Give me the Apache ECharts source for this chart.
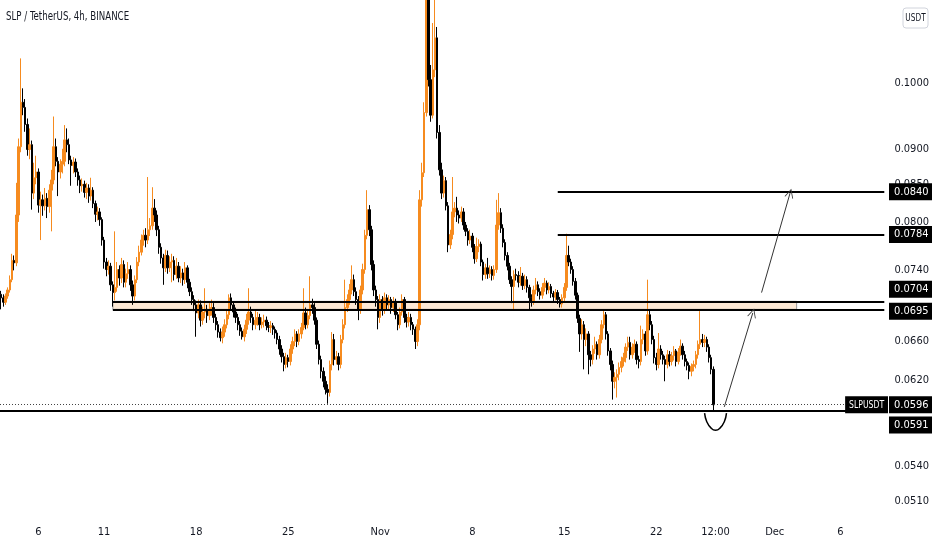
<!DOCTYPE html>
<html>
<head>
<meta charset="utf-8">
<script src="https://cdn.jsdelivr.net/npm/echarts@6/dist/echarts.min.js"></script>
<style>
  html, body { margin: 0; background: #fff; }
  #chart { width: 932px; height: 550px; }
</style>
</head>
<body>
<div id="chart"></div>
<script>
// SLP / USDT, 4h candles from 2021-10-03 04:00 (UTC), [open, close, low, high]
const startTime = Date.UTC(2021, 9, 3, 4)
const slotCount = 404

const candles = [
  [0.0712,0.0708,0.0695,0.0716],[0.0708,0.0703,0.0698,0.0712],[0.0703,0.0710,0.0700,0.0713],[0.0710,0.0717,0.0707,0.0720],
  [0.0717,0.0729,0.0714,0.0734],[0.0729,0.0752,0.0726,0.0760],[0.0752,0.0749,0.0740,0.0758],[0.0749,0.0809,0.0745,0.0852],
  [0.0809,0.0903,0.0800,0.0915],[0.0903,0.0970,0.0895,0.1041],[0.0970,0.0962,0.0950,0.0992],[0.0962,0.0936,0.0925,0.0975],
  [0.0936,0.0899,0.0890,0.0945],[0.0899,0.0906,0.0885,0.0930],[0.0906,0.0838,0.0816,0.0912],[0.0838,0.0859,0.0830,0.0880],
  [0.0859,0.0867,0.0850,0.0890],[0.0867,0.0822,0.0812,0.0872],[0.0822,0.0829,0.0777,0.0840],[0.0829,0.0821,0.0808,0.0836],
  [0.0821,0.0831,0.0815,0.0845],[0.0831,0.0820,0.0805,0.0838],[0.0820,0.0842,0.0812,0.0850],[0.0842,0.0856,0.0788,0.0870],
  [0.0856,0.0903,0.0850,0.0948],[0.0903,0.0882,0.0875,0.0915],[0.0882,0.0867,0.0834,0.0888],[0.0867,0.0878,0.0858,0.0885],
  [0.0878,0.0882,0.0865,0.0900],[0.0882,0.0913,0.0875,0.0935],[0.0913,0.0906,0.0895,0.0930],[0.0906,0.0884,0.0878,0.0915],
  [0.0884,0.0876,0.0848,0.0890],[0.0876,0.0881,0.0865,0.0888],[0.0881,0.0867,0.0860,0.0886],[0.0867,0.0856,0.0848,0.0872],
  [0.0856,0.0848,0.0838,0.0862],[0.0848,0.0850,0.0840,0.0858],[0.0850,0.0839,0.0832,0.0855],[0.0839,0.0845,0.0830,0.0852],
  [0.0845,0.0834,0.0825,0.0850],[0.0834,0.0842,0.0828,0.0859],[0.0842,0.0824,0.0818,0.0846],[0.0824,0.0810,0.0800,0.0828],
  [0.0810,0.0813,0.0802,0.0820],[0.0813,0.0803,0.0795,0.0818],[0.0803,0.0777,0.0770,0.0806],[0.0777,0.0750,0.0742,0.0781],
  [0.0750,0.0741,0.0733,0.0755],[0.0741,0.0745,0.0735,0.0752],[0.0745,0.0723,0.0716,0.0749],[0.0723,0.0714,0.0698,0.0727],
  [0.0714,0.0720,0.0705,0.0788],[0.0720,0.0741,0.0715,0.0750],[0.0741,0.0731,0.0722,0.0746],[0.0731,0.0747,0.0725,0.0755],
  [0.0747,0.0726,0.0720,0.0752],[0.0726,0.0736,0.0720,0.0742],[0.0736,0.0741,0.0730,0.0750],[0.0741,0.0723,0.0716,0.0746],
  [0.0723,0.0710,0.0700,0.0728],[0.0710,0.0729,0.0705,0.0734],[0.0729,0.0750,0.0725,0.0756],[0.0750,0.0762,0.0745,0.0770],
  [0.0762,0.0777,0.0758,0.0784],[0.0777,0.0783,0.0770,0.0790],[0.0783,0.0777,0.0768,0.0792],[0.0777,0.0790,0.0772,0.0860],
  [0.0790,0.0795,0.0782,0.0805],[0.0795,0.0818,0.0790,0.0846],[0.0818,0.0809,0.0800,0.0830],[0.0809,0.0790,0.0782,0.0815],
  [0.0790,0.0768,0.0760,0.0795],[0.0768,0.0755,0.0748,0.0773],[0.0755,0.0743,0.0723,0.0760],[0.0743,0.0758,0.0738,0.0765],
  [0.0758,0.0743,0.0736,0.0764],[0.0743,0.0750,0.0738,0.0757],[0.0750,0.0752,0.0726,0.0760],[0.0752,0.0735,0.0728,0.0757],
  [0.0735,0.0745,0.0730,0.0755],[0.0745,0.0731,0.0726,0.0750],[0.0731,0.0737,0.0725,0.0745],[0.0737,0.0729,0.0722,0.0742],
  [0.0729,0.0743,0.0724,0.0750],[0.0743,0.0726,0.0719,0.0746],[0.0726,0.0715,0.0710,0.0730],[0.0715,0.0706,0.0700,0.0720],
  [0.0706,0.0700,0.0693,0.0711],[0.0700,0.0691,0.0665,0.0705],[0.0691,0.0700,0.0685,0.0706],[0.0700,0.0683,0.0676,0.0705],
  [0.0683,0.0692,0.0678,0.0698],[0.0692,0.0695,0.0685,0.0719],[0.0695,0.0688,0.0680,0.0700],[0.0688,0.0695,0.0683,0.0702],
  [0.0695,0.0697,0.0688,0.0706],[0.0697,0.0686,0.0680,0.0702],[0.0686,0.0678,0.0672,0.0690],[0.0678,0.0670,0.0664,0.0682],
  [0.0670,0.0664,0.0660,0.0674],[0.0664,0.0670,0.0658,0.0676],[0.0670,0.0678,0.0665,0.0684],[0.0678,0.0689,0.0674,0.0695],
  [0.0689,0.0708,0.0684,0.0712],[0.0708,0.0700,0.0694,0.0713],[0.0700,0.0692,0.0686,0.0704],[0.0692,0.0686,0.0680,0.0697],
  [0.0686,0.0678,0.0672,0.0690],[0.0678,0.0671,0.0666,0.0682],[0.0671,0.0665,0.0662,0.0675],[0.0665,0.0673,0.0660,0.0678],
  [0.0673,0.0683,0.0668,0.0690],[0.0683,0.0692,0.0678,0.0719],[0.0692,0.0686,0.0680,0.0698],[0.0686,0.0678,0.0672,0.0690],
  [0.0678,0.0683,0.0673,0.0695],[0.0683,0.0686,0.0677,0.0692],[0.0686,0.0678,0.0672,0.0690],[0.0678,0.0681,0.0674,0.0686],
  [0.0681,0.0683,0.0675,0.0689],[0.0683,0.0677,0.0672,0.0687],[0.0677,0.0675,0.0670,0.0681],[0.0675,0.0677,0.0669,0.0682],
  [0.0677,0.0673,0.0667,0.0680],[0.0673,0.0669,0.0663,0.0676],[0.0669,0.0662,0.0657,0.0672],[0.0662,0.0652,0.0646,0.0666],
  [0.0652,0.0644,0.0638,0.0656],[0.0644,0.0636,0.0629,0.0648],[0.0636,0.0643,0.0632,0.0648],[0.0643,0.0639,0.0633,0.0646],
  [0.0639,0.0652,0.0635,0.0657],[0.0652,0.0660,0.0647,0.0665],[0.0660,0.0668,0.0655,0.0673],[0.0668,0.0660,0.0654,0.0671],
  [0.0660,0.0668,0.0656,0.0673],[0.0668,0.0675,0.0663,0.0680],[0.0675,0.0691,0.0672,0.0719],[0.0691,0.0678,0.0673,0.0697],
  [0.0678,0.0688,0.0674,0.0694],[0.0688,0.0700,0.0684,0.0733],[0.0700,0.0697,0.0690,0.0707],[0.0697,0.0683,0.0678,0.0702],
  [0.0683,0.0657,0.0652,0.0686],[0.0657,0.0641,0.0636,0.0661],[0.0641,0.0629,0.0622,0.0645],[0.0629,0.0619,0.0613,0.0633],
  [0.0619,0.0611,0.0606,0.0624],[0.0611,0.0608,0.0597,0.0616],[0.0608,0.0636,0.0604,0.0640],[0.0636,0.0662,0.0630,0.0670],
  [0.0662,0.0641,0.0635,0.0668],[0.0641,0.0644,0.0636,0.0650],[0.0644,0.0636,0.0630,0.0648],[0.0636,0.0662,0.0632,0.0667],
  [0.0662,0.0678,0.0658,0.0684],[0.0678,0.0697,0.0674,0.0729],[0.0697,0.0706,0.0692,0.0712],[0.0706,0.0717,0.0700,0.0724],
  [0.0717,0.0729,0.0712,0.0746],[0.0729,0.0715,0.0710,0.0735],[0.0715,0.0706,0.0700,0.0720],[0.0706,0.0695,0.0683,0.0710],
  [0.0695,0.0717,0.0690,0.0722],[0.0717,0.0741,0.0712,0.0748],[0.0741,0.0783,0.0736,0.0790],[0.0783,0.0816,0.0778,0.0842],
  [0.0816,0.0790,0.0782,0.0822],[0.0790,0.0747,0.0740,0.0795],[0.0747,0.0717,0.0710,0.0752],[0.0717,0.0706,0.0698,0.0722],
  [0.0706,0.0686,0.0673,0.0710],[0.0686,0.0706,0.0680,0.0712],[0.0706,0.0695,0.0688,0.0710],[0.0695,0.0708,0.0690,0.0714],
  [0.0708,0.0700,0.0694,0.0712],[0.0700,0.0706,0.0695,0.0711],[0.0706,0.0697,0.0690,0.0709],[0.0697,0.0704,0.0692,0.0709],
  [0.0704,0.0689,0.0684,0.0707],[0.0689,0.0678,0.0672,0.0692],[0.0678,0.0692,0.0674,0.0697],[0.0692,0.0706,0.0688,0.0712],
  [0.0706,0.0686,0.0680,0.0709],[0.0686,0.0681,0.0675,0.0690],[0.0681,0.0686,0.0676,0.0692],[0.0686,0.0678,0.0672,0.0690],
  [0.0678,0.0673,0.0667,0.0681],[0.0673,0.0660,0.0652,0.0676],[0.0660,0.0678,0.0655,0.0684],[0.0678,0.0829,0.0672,0.0842],
  [0.0829,0.0866,0.0820,0.0880],[0.0866,0.0954,0.0860,0.0970],[0.0954,0.1250,0.0948,0.1350],[0.1250,0.1006,0.0995,0.1300],
  [0.1006,0.0950,0.0940,0.1030],[0.0950,0.1022,0.0945,0.1102],[0.1022,0.1076,0.1010,0.1180],[0.1076,0.0924,0.0915,0.1095],
  [0.0924,0.0870,0.0862,0.0935],[0.0870,0.0838,0.0830,0.0880],[0.0838,0.0855,0.0832,0.0862],[0.0855,0.0821,0.0815,0.0860],
  [0.0821,0.0771,0.0762,0.0826],[0.0771,0.0784,0.0766,0.0790],[0.0784,0.0813,0.0778,0.0860],[0.0813,0.0818,0.0806,0.0826],
  [0.0818,0.0809,0.0800,0.0833],[0.0809,0.0805,0.0798,0.0815],[0.0805,0.0813,0.0800,0.0820],[0.0813,0.0796,0.0790,0.0818],
  [0.0796,0.0788,0.0782,0.0800],[0.0788,0.0777,0.0770,0.0792],[0.0777,0.0782,0.0772,0.0790],[0.0782,0.0768,0.0762,0.0786],
  [0.0768,0.0754,0.0748,0.0772],[0.0754,0.0769,0.0750,0.0780],[0.0769,0.0772,0.0762,0.0778],[0.0772,0.0750,0.0745,0.0775],
  [0.0750,0.0735,0.0728,0.0753],[0.0735,0.0743,0.0730,0.0748],[0.0743,0.0736,0.0730,0.0755],[0.0736,0.0741,0.0731,0.0746],
  [0.0741,0.0734,0.0728,0.0745],[0.0734,0.0741,0.0729,0.0746],[0.0741,0.0796,0.0737,0.0829],[0.0796,0.0812,0.0790,0.0838],
  [0.0812,0.0792,0.0786,0.0818],[0.0792,0.0774,0.0768,0.0797],[0.0774,0.0758,0.0752,0.0778],[0.0758,0.0745,0.0740,0.0762],
  [0.0745,0.0729,0.0724,0.0749],[0.0729,0.0721,0.0702,0.0733],[0.0721,0.0735,0.0695,0.0740],[0.0735,0.0734,0.0728,0.0742],
  [0.0734,0.0726,0.0720,0.0739],[0.0726,0.0733,0.0722,0.0744],[0.0733,0.0722,0.0717,0.0737],[0.0722,0.0729,0.0718,0.0735],
  [0.0729,0.0720,0.0714,0.0733],[0.0720,0.0708,0.0695,0.0723],[0.0708,0.0703,0.0698,0.0712],[0.0703,0.0717,0.0700,0.0722],
  [0.0717,0.0723,0.0712,0.0731],[0.0723,0.0715,0.0710,0.0727],[0.0715,0.0711,0.0706,0.0719],[0.0711,0.0720,0.0707,0.0725],
  [0.0720,0.0725,0.0715,0.0731],[0.0725,0.0717,0.0712,0.0728],[0.0717,0.0721,0.0713,0.0726],[0.0721,0.0713,0.0708,0.0724],
  [0.0713,0.0709,0.0704,0.0716],[0.0709,0.0714,0.0705,0.0718],[0.0714,0.0706,0.0701,0.0717],[0.0706,0.0701,0.0697,0.0709],
  [0.0701,0.0708,0.0697,0.0712],[0.0708,0.0720,0.0704,0.0725],[0.0720,0.0758,0.0716,0.0785],[0.0758,0.0750,0.0745,0.0770],
  [0.0750,0.0741,0.0736,0.0754],[0.0741,0.0727,0.0722,0.0745],[0.0727,0.0711,0.0706,0.0731],[0.0711,0.0685,0.0680,0.0714],
  [0.0685,0.0668,0.0649,0.0689],[0.0668,0.0678,0.0662,0.0684],[0.0678,0.0662,0.0631,0.0682],[0.0662,0.0668,0.0655,0.0674],
  [0.0668,0.0646,0.0626,0.0671],[0.0646,0.0641,0.0634,0.0650],[0.0641,0.0652,0.0636,0.0656],[0.0652,0.0657,0.0647,0.0665],
  [0.0657,0.0646,0.0641,0.0660],[0.0646,0.0662,0.0642,0.0667],[0.0662,0.0678,0.0658,0.0683],[0.0678,0.0689,0.0674,0.0695],
  [0.0689,0.0668,0.0662,0.0692],[0.0668,0.0650,0.0645,0.0671],[0.0650,0.0636,0.0630,0.0653],[0.0636,0.0619,0.0601,0.0640],
  [0.0619,0.0623,0.0612,0.0628],[0.0623,0.0626,0.0603,0.0631],[0.0626,0.0633,0.0620,0.0638],[0.0633,0.0639,0.0628,0.0644],
  [0.0639,0.0643,0.0634,0.0648],[0.0643,0.0654,0.0638,0.0658],[0.0654,0.0659,0.0650,0.0665],[0.0659,0.0646,0.0641,0.0665],
  [0.0646,0.0654,0.0642,0.0658],[0.0654,0.0657,0.0648,0.0662],[0.0657,0.0641,0.0636,0.0660],[0.0641,0.0639,0.0632,0.0645],
  [0.0639,0.0662,0.0635,0.0677],[0.0662,0.0668,0.0657,0.0673],[0.0668,0.0650,0.0645,0.0671],[0.0650,0.0689,0.0646,0.0729],
  [0.0689,0.0678,0.0672,0.0694],[0.0678,0.0662,0.0657,0.0682],[0.0662,0.0643,0.0637,0.0666],[0.0643,0.0636,0.0630,0.0648],
  [0.0636,0.0652,0.0632,0.0669],[0.0652,0.0646,0.0641,0.0656],[0.0646,0.0641,0.0636,0.0650],[0.0641,0.0636,0.0619,0.0645],
  [0.0636,0.0646,0.0632,0.0651],[0.0646,0.0639,0.0634,0.0650],[0.0639,0.0645,0.0635,0.0649],[0.0645,0.0650,0.0640,0.0655],
  [0.0650,0.0639,0.0634,0.0652],[0.0639,0.0649,0.0636,0.0653],[0.0649,0.0655,0.0645,0.0662],[0.0655,0.0646,0.0641,0.0658],
  [0.0646,0.0639,0.0634,0.0650],[0.0639,0.0635,0.0630,0.0642],[0.0635,0.0629,0.0621,0.0638],[0.0629,0.0634,0.0624,0.0637],
  [0.0634,0.0636,0.0629,0.0640],[0.0636,0.0646,0.0632,0.0650],[0.0646,0.0657,0.0642,0.0661],[0.0657,0.0662,0.0652,0.0693],
  [0.0662,0.0659,0.0654,0.0668],[0.0659,0.0662,0.0654,0.0667],[0.0662,0.0654,0.0649,0.0665],[0.0654,0.0643,0.0638,0.0657],
  [0.0643,0.0631,0.0626,0.0646],[0.0631,0.0596,0.0591,0.0634]
]

// time axis labels: [slot time, text]
const timeTicks = [
  ['2021-10-06 00:00', '6'], ['2021-10-11 00:00', '11'], ['2021-10-18 00:00', '18'],
  ['2021-10-25 00:00', '25'], ['2021-11-01 00:00', 'Nov'], ['2021-11-08 00:00', '8'],
  ['2021-11-15 00:00', '15'], ['2021-11-22 00:00', '22'], ['2021-11-26 12:00', '12:00'],
  ['2021-12-01 00:00', 'Dec'], ['2021-12-06 00:00', '6']
]
const priceTicks = [0.1, 0.09, 0.085, 0.08, 0.074, 0.066, 0.062, 0.054, 0.051]
const priceRange = [0.04951, 0.11436]

// drawn levels: [price, first slot] (slot 0 = full width)
const levelLines = [[0.0840, 254], [0.0784, 254], [0.0704, 51], [0.0695, 51], [0.0591, 0]]
const lastPrice = 0.0596
const zone = { top: 0.0704, bottom: 0.0695, from: 51, to: 363 }
// arrows: [fromSlot, fromPrice, toSlot, toPrice]
const arrows = [[330, 0.0594, 343, 0.0691], [347, 0.0714, 360, 0.0838]]
// hand-drawn cup under the last candle: [slot, price]
const cupPoints = [
  [321, 0.0588], [322, 0.0580], [324, 0.0574], [326, 0.0572], [328, 0.0574], [330, 0.0580], [331, 0.0588]
]
// price tags on the scale: [price, vertical nudge in px]
const priceTags = [[0.0840, 0], [0.0784, 0], [0.0704, -12], [0.0695, 2], [0.0596, 0], [0.0591, 15]]

const font = "'Liberation Sans Narrow', 'DejaVu Sans Condensed', 'Liberation Sans', sans-serif"
const ink = '#131722'
const upColor = '#f68b1f'
const downColor = '#000000'
const gridRight = 44

const categories = []
for (let k = 0; k < slotCount; k++) {
  const d = new Date(startTime + k * 4 * 3600 * 1000)
  categories.push(d.toISOString().slice(0, 16).replace('T', ' '))
}
const tickText = new Map(timeTicks)
const ln = (p) => Math.log(p)
const lastCat = categories[slotCount - 1]

const lineData = levelLines.map(([price, from]) =>
  from === 0
    ? { yAxis: ln(price) }
    : [{ coord: [categories[from], ln(price)] }, { coord: [lastCat, ln(price)] }]
)
lineData.push({ yAxis: ln(lastPrice), lineStyle: { type: [1, 2], width: 1, color: '#444' } })

const chevron = 'path://M0,10 L5,0 L10,10 L9,10 L5,2 L1,10 Z'
arrows.forEach(([s0, p0, s1, p1]) => {
  lineData.push([
    { coord: [categories[s0], ln(p0)], symbol: 'none', lineStyle: { width: 1, color: '#333' } },
    { coord: [categories[s1], ln(p1)], symbol: chevron, symbolSize: [9, 9] },
  ])
})

const chart = echarts.init(document.getElementById('chart'))

chart.setOption({
  animation: false,
  backgroundColor: '#fff',
  grid: { left: 0, right: gridRight, top: 0, bottom: 30 },
  xAxis: {
    type: 'category',
    data: categories,
    axisLine: { show: false },
    axisTick: { show: false },
    splitLine: { show: false },
    axisLabel: {
      interval: (idx, val) => tickText.has(val),
      formatter: (val) => tickText.get(val) || '',
      margin: 7,
      fontFamily: font,
      fontSize: 11,
      color: ink,
    },
  },
  yAxis: {
    type: 'value',
    position: 'right',
    min: ln(priceRange[0]),
    max: ln(priceRange[1]),
    axisLine: { show: false },
    axisTick: { show: false },
    splitLine: { show: false },
    axisLabel: {
      customValues: priceTicks.map(ln),
      formatter: (v) => Math.exp(v).toFixed(4),
      margin: 9,
      fontFamily: font,
      fontSize: 11,
      color: ink,
    },
  },
  series: [
    {
      type: 'candlestick',
      data: candles.map((c) => c.map(ln)),
      barWidth: 2,
      clip: true,
      itemStyle: {
        color: upColor,
        color0: downColor,
        borderColor: upColor,
        borderColor0: downColor,
        borderWidth: 1,
      },
      markArea: {
        silent: true,
        itemStyle: { color: 'rgba(242,140,40,0.2)', borderColor: '#999', borderWidth: 1 },
        data: [[
          { coord: [categories[zone.from], ln(zone.top)] },
          { coord: [categories[zone.to], ln(zone.bottom)] },
        ]],
      },
      markLine: {
        silent: true,
        symbol: ['none', 'none'],
        label: { show: false },
        lineStyle: { type: 'solid', width: 2, color: '#000' },
        data: lineData,
      },
    },
    {
      type: 'line',
      data: cupPoints.map(([s, p]) => [categories[s], ln(p)]),
      smooth: 0.5,
      showSymbol: false,
      silent: true,
      lineStyle: { width: 1.5, color: '#000' },
    },
  ],
})

// price tags drawn over the right scale
const scaleX = 932 - gridRight + 1
const tagStyle = (text, align) => ({
  text,
  fill: '#fff',
  backgroundColor: '#000',
  padding: [3, 5, 3, 5],
  font: `11px ${font}`,
  align: align || 'left',
  verticalAlign: 'middle',
})
const graphics = priceTags.map(([price, nudge]) => ({
  type: 'text',
  x: scaleX,
  y: chart.convertToPixel({ yAxisIndex: 0 }, ln(price)) + nudge,
  z: 100,
  style: tagStyle(price.toFixed(4)),
}))
graphics.push({
  type: 'text',
  x: scaleX - 1,
  y: chart.convertToPixel({ yAxisIndex: 0 }, ln(lastPrice)),
  scaleX: 0.78,
  z: 100,
  style: tagStyle('SLPUSDT', 'right'),
})
graphics.push({
  type: 'text',
  x: 6,
  y: 17,
  scaleX: 0.8,
  z: 100,
  style: { text: 'SLP / TetherUS, 4h, BINANCE', fill: ink, font: `12px ${font}`, verticalAlign: 'middle' },
})
graphics.push({
  type: 'rect',
  shape: { x: 903, y: 8, width: 25, height: 20, r: 3 },
  style: { fill: '#fff', stroke: '#d1d4dc', lineWidth: 1 },
  z: 100,
})
graphics.push({
  type: 'text',
  x: 915.5,
  y: 18,
  scaleX: 0.82,
  z: 101,
  style: { text: 'USDT', fill: ink, font: `10px ${font}`, align: 'center', verticalAlign: 'middle' },
})
chart.setOption({ graphic: graphics })

window.addEventListener('resize', () => chart.resize())
</script>
</body>
</html>
